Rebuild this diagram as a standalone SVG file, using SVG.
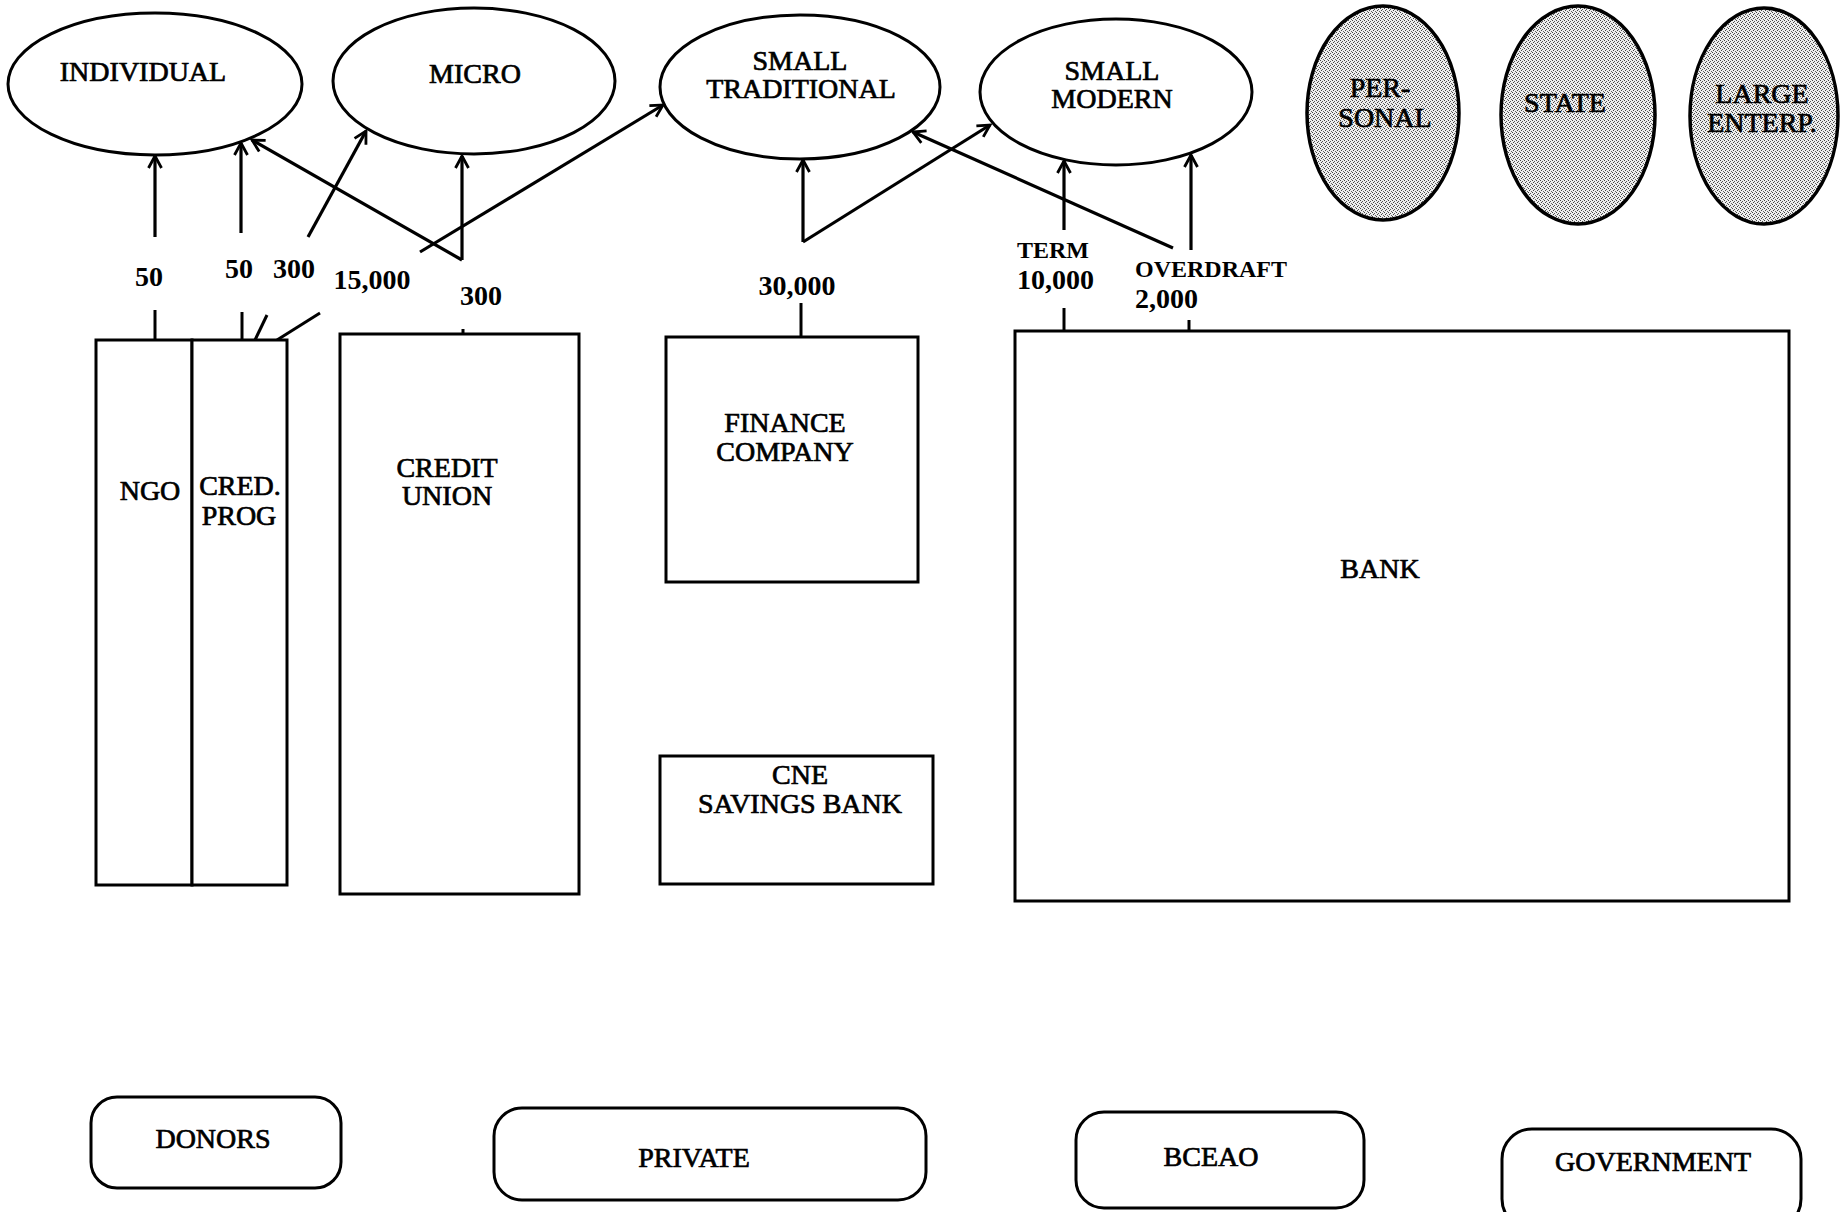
<svg xmlns="http://www.w3.org/2000/svg" width="1840" height="1212" viewBox="0 0 1840 1212">
<style>
.shape{fill:#fff;stroke:#000;stroke-width:3}
.gray{fill:url(#stip);stroke:#000;stroke-width:3.5}
.t{font-family:"Liberation Serif","Times New Roman",serif;font-size:28px;fill:#000;stroke:#000;stroke-width:0.7;text-anchor:middle}
.lb{font-family:"Liberation Serif","Times New Roman",serif;font-size:28px;font-weight:bold;fill:#000;text-anchor:middle}
.lbs{font-family:"Liberation Serif","Times New Roman",serif;font-size:24px;font-weight:bold;fill:#000}
.lbl{font-family:"Liberation Serif","Times New Roman",serif;font-size:28px;font-weight:bold;fill:#000}
.ca{stroke:#000;stroke-width:3.2;fill:none;marker-end:url(#ah)}
.tick{stroke:#000;stroke-width:3;fill:none}
</style>
<defs>
<pattern id="stip" width="4" height="4" patternUnits="userSpaceOnUse">
<rect width="4" height="4" fill="#eeeeee"/>
<rect x="0" y="0" width="1" height="1" fill="#444"/>
<rect x="2" y="1" width="1" height="1" fill="#555"/>
<rect x="1" y="2" width="1" height="1" fill="#444"/>
<rect x="3" y="3" width="1" height="1" fill="#666"/>
</pattern>
<marker id="ah" markerWidth="20" markerHeight="16" viewBox="0 0 20 16" refX="15" refY="8" orient="auto" markerUnits="userSpaceOnUse">
<path d="M3,1.5 L15,8 L3,14.5" fill="none" stroke="#000" stroke-width="2.8"/>
</marker>
</defs>
<rect width="1840" height="1212" fill="#fff"/>

<g id="connectors">
<line class="ca" x1="155" y1="237" x2="155" y2="156"/>
<line class="ca" x1="241" y1="233" x2="241" y2="143"/>
<line class="ca" x1="308" y1="237" x2="366" y2="131"/>
<line class="ca" x1="420" y1="252" x2="663" y2="105"/>
<line class="ca" x1="462" y1="260" x2="462" y2="156"/>
<line class="ca" x1="462" y1="260" x2="252" y2="140"/>
<line class="ca" x1="803" y1="242" x2="803" y2="160"/>
<line class="ca" x1="803" y1="242" x2="990" y2="125"/>
<line class="ca" x1="1064" y1="230" x2="1064" y2="161"/>
<line class="ca" x1="1191" y1="250" x2="1191" y2="155"/>
<line class="ca" x1="1173" y1="248" x2="913" y2="132"/>
<line class="tick" x1="155" y1="310" x2="155" y2="340"/>
<line class="tick" x1="242" y1="312" x2="242" y2="340"/>
<line class="tick" x1="267" y1="315" x2="255" y2="340"/>
<line class="tick" x1="320" y1="313" x2="277" y2="340"/>
<line class="tick" x1="463" y1="329" x2="463" y2="335"/>
<line class="tick" x1="801" y1="303" x2="801" y2="337"/>
<line class="tick" x1="1064" y1="308" x2="1064" y2="331"/>
<line class="tick" x1="1189" y1="320" x2="1189" y2="331"/>
</g>

<g id="labels">
<text class="lb" x="149" y="286">50</text>
<text class="lb" x="239" y="278">50</text>
<text class="lb" x="294" y="278">300</text>
<text class="lb" x="372" y="289">15,000</text>
<text class="lb" x="481" y="305">300</text>
<text class="lb" x="797" y="295">30,000</text>
<text class="lbs" x="1017" y="258">TERM</text>
<text class="lbl" x="1017" y="289">10,000</text>
<text class="lbs" x="1135" y="277">OVERDRAFT</text>
<text class="lbl" x="1135" y="308">2,000</text>
</g>

<g id="individual">
<ellipse class="shape" cx="155" cy="84" rx="147" ry="71"/>
<text class="t" x="143" y="81">INDIVIDUAL</text>
</g>
<g id="micro">
<ellipse class="shape" cx="474" cy="81" rx="141" ry="73"/>
<text class="t" x="475" y="83">MICRO</text>
</g>
<g id="small-traditional">
<ellipse class="shape" cx="800" cy="87" rx="140" ry="72"/>
<text class="t" x="800" y="70">SMALL</text>
<text class="t" x="801" y="98">TRADITIONAL</text>
</g>
<g id="small-modern">
<ellipse class="shape" cx="1116" cy="92" rx="136" ry="73"/>
<text class="t" x="1112" y="80">SMALL</text>
<text class="t" x="1112" y="108">MODERN</text>
</g>
<g id="personal">
<ellipse class="gray" cx="1383" cy="113" rx="76" ry="107"/>
<text class="t" x="1380" y="97">PER-</text>
<text class="t" x="1385" y="127">SONAL</text>
</g>
<g id="state">
<ellipse class="gray" cx="1578" cy="115" rx="77" ry="109"/>
<text class="t" x="1565" y="112">STATE</text>
</g>
<g id="large-enterp">
<ellipse class="gray" cx="1764" cy="116" rx="74" ry="108"/>
<text class="t" x="1762" y="103">LARGE</text>
<text class="t" x="1762" y="132">ENTERP.</text>
</g>

<g id="ngo">
<rect class="shape" x="96" y="340" width="96" height="545"/>
<text class="t" x="150" y="500">NGO</text>
</g>
<g id="cred-prog">
<rect class="shape" x="192" y="340" width="95" height="545"/>
<text class="t" x="240" y="495">CRED.</text>
<text class="t" x="239" y="525">PROG</text>
</g>
<g id="credit-union">
<rect class="shape" x="340" y="334" width="239" height="560"/>
<text class="t" x="447" y="477">CREDIT</text>
<text class="t" x="447" y="505">UNION</text>
</g>
<g id="finance-company">
<rect class="shape" x="666" y="337" width="252" height="245"/>
<text class="t" x="785" y="432">FINANCE</text>
<text class="t" x="785" y="461">COMPANY</text>
</g>
<g id="cne-savings-bank">
<rect class="shape" x="660" y="756" width="273" height="128"/>
<text class="t" x="800" y="784">CNE</text>
<text class="t" x="800" y="813">SAVINGS BANK</text>
</g>
<g id="bank">
<rect class="shape" x="1015" y="331" width="774" height="570"/>
<text class="t" x="1380" y="578">BANK</text>
</g>

<g id="donors">
<rect class="shape" x="91" y="1097" width="250" height="91" rx="26" ry="26"/>
<text class="t" x="213" y="1148">DONORS</text>
</g>
<g id="private">
<rect class="shape" x="494" y="1108" width="432" height="92" rx="28" ry="28"/>
<text class="t" x="694" y="1167">PRIVATE</text>
</g>
<g id="bceao">
<rect class="shape" x="1076" y="1112" width="288" height="96" rx="28" ry="28"/>
<text class="t" x="1211" y="1166">BCEAO</text>
</g>
<g id="government">
<rect class="shape" x="1502" y="1129" width="299" height="100" rx="30" ry="30"/>
<text class="t" x="1653" y="1171">GOVERNMENT</text>
</g>
</svg>
